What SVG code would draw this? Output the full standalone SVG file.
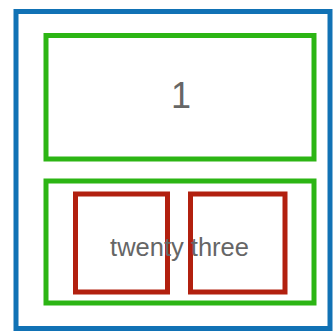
<svg xmlns="http://www.w3.org/2000/svg" width="333" height="331" viewBox="0 0 333 331">
<style>
rect{fill:none;stroke-width:5}
.outer{stroke:#1172b5}
.grp{stroke:#2cb514}
.leaf{stroke:#b2200f}
text{font-family:"Liberation Sans",Arial,sans-serif;fill:#666;text-anchor:middle}
</style>
<rect x="0" y="0" width="333" height="331" style="fill:#fff;stroke:none"/>
<g id="root"><rect class="outer" x="16" y="11.5" width="314" height="317"/></g>
<g id="node1"><rect class="grp" x="46" y="35.5" width="268" height="123.5"/><text x="181" y="108" font-size="36">1</text></g>
<g id="node23"><rect class="grp" x="46" y="181" width="268" height="122"/></g>
<g id="node2"><rect class="leaf" x="75.5" y="194" width="92" height="98"/></g>
<g id="node3"><rect class="leaf" x="190.5" y="194" width="94.5" height="98"/></g>
<g id="label23"><text x="179.5" y="256" font-size="25.5">twenty three</text></g>
<g id="connectors"></g>
</svg>
